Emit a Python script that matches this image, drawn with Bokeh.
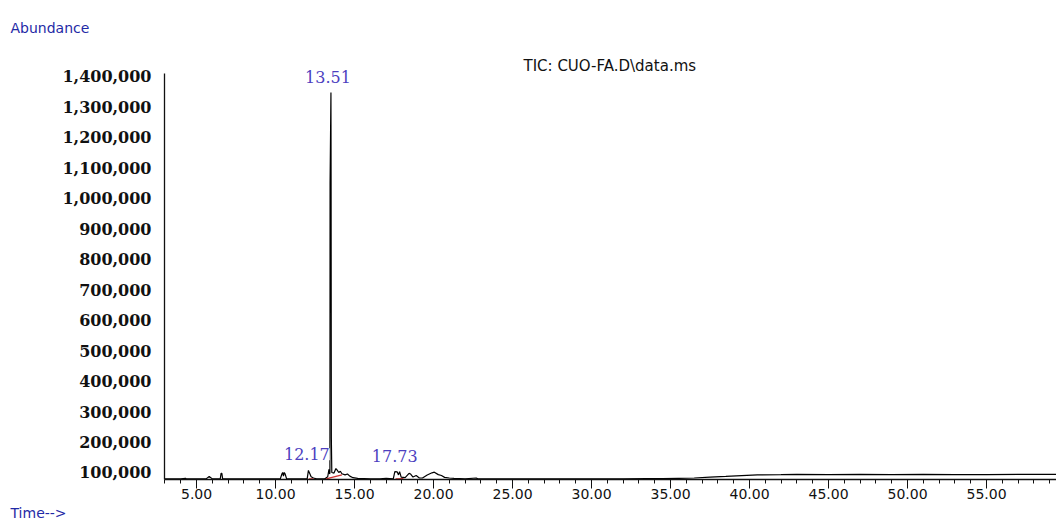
from bokeh.plotting import figure
from bokeh.models import Label, FixedTicker, NumeralTickFormatter, Range1d, Title
from bokeh.embed import file_html
from bokeh.resources import INLINE

# ---- data ----
times = [3.0, 4.0, 4.3, 4.35, 5.0, 5.6, 5.8, 6.0, 6.5, 6.55, 6.6, 6.65, 7.5, 8.5, 9.5,
         10.3, 10.4, 10.45, 10.5, 10.55, 10.6, 10.7, 11.5, 12.0, 12.08, 12.15, 12.25, 12.4,
         12.6, 13.1, 13.3, 13.38, 13.42, 13.44, 13.45, 13.505, 13.515, 13.53, 13.56, 13.7,
         13.82, 13.9, 14.0, 14.1, 14.2, 14.4, 14.55, 14.7, 14.9, 15.2, 16.0, 16.6, 17.0,
         17.45, 17.55, 17.7, 17.78, 17.85, 17.95, 18.2, 18.45, 18.55, 18.7, 18.9, 19.1,
         19.3, 19.6, 19.9, 20.05, 20.3, 20.5, 20.7, 21.0, 21.3, 22.0, 22.7, 22.8, 24.0,
         26.0, 28.0, 30.0, 32.0, 33.5, 34.5, 35.5, 36.5, 37.5, 38.5, 39.5, 40.5, 42.0,
         43.0, 45.0, 47.0, 49.0, 51.0, 53.0, 55.0, 57.0, 59.5]
abundance = [79000, 79000, 81000, 79000, 79000, 79000, 87000, 79000, 79000, 97000, 97000,
             79000, 79000, 79000, 79000, 79000, 95000, 100000, 88000, 100000, 96000, 79000,
             79000, 79000, 107000, 98000, 86000, 82000, 79000, 79000, 86000, 110000, 95000,
             100000, 1050000, 1347000, 1050000, 215000, 100000, 98000, 113000, 108000,
             100000, 104000, 96000, 92000, 95000, 88000, 83000, 81000, 79000, 79000, 81000,
             79000, 103000, 102000, 92000, 103000, 85000, 83000, 97000, 95000, 85000, 90000,
             82000, 82000, 92000, 99000, 101000, 93000, 90000, 84000, 82000, 81000, 79000,
             82000, 79000, 79000, 79000, 79000, 79000, 79000, 80000, 80000, 81000, 82000,
             85000, 87000, 90000, 92000, 93000, 94000, 93000, 94000, 93000, 94000, 93000,
             93000, 94000, 94000]

peak_times = [13.51, 12.17, 17.73]
peak_heights = [1347000, 107000, 103000]
peak_texts = ["13.51", "12.17", "17.73"]

# integration baselines (red)
base_x0 = [12.1, 13.2, 17.6]
base_y0 = [79000, 79000, 79000]
base_x1 = [12.4, 14.2, 18.1]
base_y1 = [79000, 92000, 80000]

x_ticks = [5, 10, 15, 20, 25, 30, 35, 40, 45, 50, 55]
x_minor = list(range(3, 60))
y_ticks = [100000, 200000, 300000, 400000, 500000, 600000, 700000, 800000, 900000,
           1000000, 1100000, 1200000, 1300000, 1400000]

title_text = "TIC: CUO-FA.D\\data.ms"
y_title = "Abundance"
x_title = "Time-->"

# ---- figure ----
p = figure(width=1056, height=523, x_range=Range1d(2.97, 59.43),
           y_range=Range1d(77000, 1518000), output_backend="svg",
           toolbar_location=None, min_border_left=164, min_border_right=0,
           min_border_top=40, min_border_bottom=44)
p.xgrid.visible = False
p.ygrid.visible = False
p.outline_line_color = None
p.background_fill_color = "white"
p.border_fill_color = "white"

# "Abundance" in the top-left corner
p.title.text = y_title
p.title.align = "left"
p.title.offset = -154
p.title.standoff = 10
p.title.text_font = "DejaVu Sans"
p.title.text_font_size = "14px"
p.title.text_font_style = "normal"
p.title.text_color = "#1f2aa6"

xa = p.xaxis[0]
xa.ticker = FixedTicker(ticks=x_ticks, minor_ticks=x_minor)
xa.formatter = NumeralTickFormatter(format="0.00")
xa.major_tick_in = 0
xa.major_tick_out = 9
xa.minor_tick_in = 0
xa.minor_tick_out = 4
xa.axis_line_color = "#111111"
xa.axis_line_width = 1.3
xa.major_tick_line_color = "#111111"
xa.minor_tick_line_color = "#111111"
xa.major_label_text_font = "DejaVu Sans"
xa.major_label_text_font_size = "14px"
xa.major_label_text_color = "#111111"
xa.major_label_standoff = 0

ya = p.yaxis[0]
ya.ticker = FixedTicker(ticks=y_ticks, minor_ticks=[])
ya.formatter = NumeralTickFormatter(format="0,0")
ya.bounds = (77000, 1410000)
ya.major_tick_in = 0
ya.major_tick_out = 0
ya.minor_tick_in = 0
ya.minor_tick_out = 0
ya.axis_line_color = "#111111"
ya.axis_line_width = 1.3
ya.major_label_text_font = "DejaVu Serif"
ya.major_label_text_font_style = "bold"
ya.major_label_text_font_size = "16px"
ya.major_label_text_color = "#111111"
ya.major_label_standoff = 13

p.line(times, abundance, line_color="black", line_width=1.2)
p.segment(x0=base_x0, y0=base_y0, x1=base_x1, y1=base_y1, line_color="#d03030", line_width=1.2)

for t, h, s in zip(peak_times, peak_heights, peak_texts):
    p.add_layout(Label(x=t, y=h, text=s, x_offset=-3, y_offset=16,
                       text_align="center", text_baseline="middle",
                       text_font="DejaVu Serif", text_font_size="16px",
                       text_color="#4d3fbf", background_fill_color="white"))

p.add_layout(Label(x=359, y=414, x_units="screen", y_units="screen", text=title_text,
                   text_align="left", text_baseline="middle", text_font="DejaVu Sans",
                   text_font_size="15px", text_color="#111111"))

p.add_layout(Title(text=x_title, align="left", offset=-154, standoff=3,
                   text_font="DejaVu Sans", text_font_size="14px",
                   text_font_style="normal", text_color="#1f2aa6"), "below")

open("out.html", "w").write(file_html(p, INLINE))
